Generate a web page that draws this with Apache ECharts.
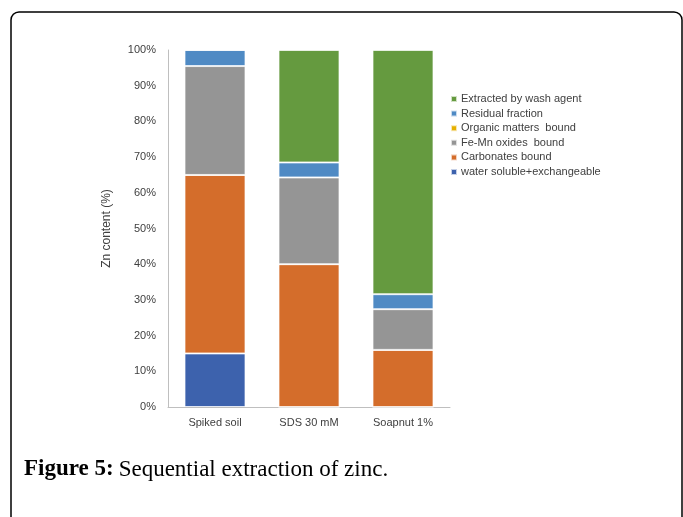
<!DOCTYPE html>
<html>
<head>
<meta charset="utf-8">
<script src="https://cdn.jsdelivr.net/npm/echarts@6/dist/echarts.min.js"></script>
<style>
  html, body { margin: 0; padding: 0; background: #fff; }
  #chart { width: 683px; height: 517px; }
</style>
</head>
<body>
<div id="chart"></div>
<script>
// ===== Data (Zn %) =====
const categories = ['Spiked soil', 'SDS 30 mM', 'Soapnut 1%'];
const waterSoluble = [15, 0, 0];
const carbonates = [50, 40, 16];
const organic = [0, 0, 0];
const feMnOxides = [30.5, 24.3, 11.4];
const residual = [4.5, 4.2, 4.2];
const extracted = [0, 31.5, 68.4];
const yTicks = [0, 100, 10]; // min, max, interval

const legendOrder = [
  'Extracted by wash agent',
  'Residual fraction',
  'Organic matters  bound',
  'Fe-Mn oxides  bound',
  'Carbonates bound',
  'water soluble+exchangeable'
];

const labelFont = '"Liberation Sans", Arial, sans-serif';
const captionFont = '"Liberation Serif", "DejaVu Serif", serif';

function stackBar(name, data, color) {
  return {
    name: name,
    type: 'bar',
    stack: 'zn',
    barWidth: 61,
    data: data,
    itemStyle: { color: color, borderColor: 'rgba(255,255,255,0.7)', borderWidth: 1 }
  };
}

const chart = echarts.init(document.getElementById('chart'));

chart.setOption({
  animation: false,
  grid: { left: 168, right: 233, top: 50, bottom: 110 },
  legend: {
    orient: 'vertical',
    left: 445,
    top: 88,
    data: legendOrder,
    icon: 'rect',
    itemWidth: 6,
    itemHeight: 6,
    itemGap: 2.6,
    textStyle: { fontFamily: labelFont, fontSize: 11, color: '#404040', lineHeight: 12, padding: [0, 0, 0, -1] }
  },
  xAxis: {
    type: 'category',
    data: categories,
    axisLine: { lineStyle: { color: '#bfbfbf', width: 1 } },
    axisTick: { show: false },
    axisLabel: { fontFamily: labelFont, fontSize: 11, color: '#404040', margin: 10 }
  },
  yAxis: {
    type: 'value',
    min: yTicks[0],
    max: yTicks[1],
    interval: yTicks[2],
    name: 'Zn content (%)',
    nameLocation: 'middle',
    nameGap: 55,
    nameTextStyle: { fontFamily: labelFont, fontSize: 12, color: '#404040' },
    axisLine: { show: true, lineStyle: { color: '#bfbfbf', width: 1 } },
    axisTick: { show: false },
    splitLine: { show: false },
    axisLabel: { fontFamily: labelFont, fontSize: 11, color: '#404040', margin: 12, formatter: '{value}%' }
  },
  series: [
    stackBar('water soluble+exchangeable', waterSoluble, '#3d62ad'),
    stackBar('Carbonates bound', carbonates, '#d46d2b'),
    stackBar('Organic matters  bound', organic, '#e6b000'),
    stackBar('Fe-Mn oxides  bound', feMnOxides, '#959595'),
    stackBar('Residual fraction', residual, '#4f8ac4'),
    stackBar('Extracted by wash agent', extracted, '#659a3f')
  ],
  graphic: [
    {
      type: 'rect',
      silent: true,
      shape: { x: 11, y: 12, width: 671, height: 600, r: 8 },
      style: { fill: 'none', stroke: '#000', lineWidth: 1.5 }
    },
    {
      type: 'text',
      left: 24,
      top: 458,
      style: {
        text: '{b|Figure 5:}{n|Sequential extraction of zinc.}',
        rich: {
          b: { fontFamily: captionFont, fontSize: 23, fontWeight: 'bold', fill: '#000', padding: [0, 5, 0, 0] },
          n: { fontFamily: captionFont, fontSize: 23, fill: '#000' }
        }
      }
    }
  ]
});

window.addEventListener('resize', () => chart.resize());
</script>
</body>
</html>
